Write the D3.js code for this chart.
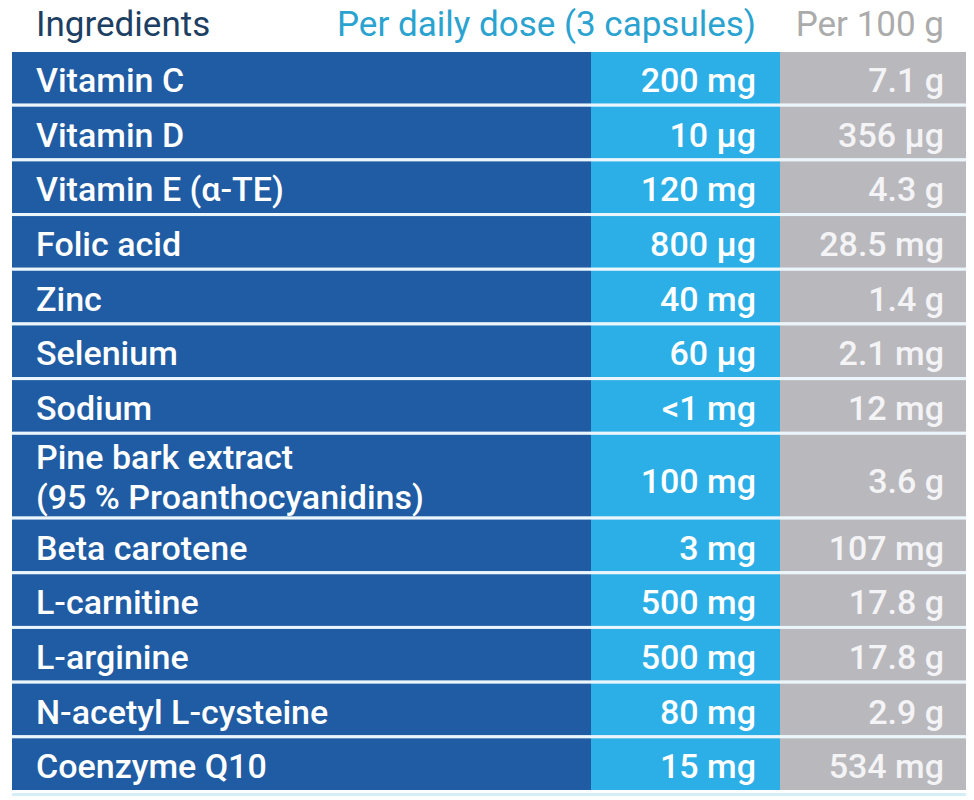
<!DOCTYPE html>
<html><head><meta charset="utf-8">
<script src="https://cdn.jsdelivr.net/npm/d3@7"></script>
<style>body{margin:0;background:#fff}svg{display:block}</style>
</head><body>
<script>
const headers = ["Ingredients", "Per daily dose (3 capsules)", "Per 100 g"];
const ingredients = [
  ["Vitamin C"], ["Vitamin D"], ["Vitamin E (α-TE)"], ["Folic acid"], ["Zinc"],
  ["Selenium"], ["Sodium"], ["Pine bark extract", "(95 % Proanthocyanidins)"],
  ["Beta carotene"], ["L-carnitine"], ["L-arginine"], ["N-acetyl L-cysteine"], ["Coenzyme Q10"]
];
const perDose = ["200 mg","10 µg","120 mg","800 µg","40 mg","60 µg","<1 mg","100 mg","3 mg","500 mg","500 mg","80 mg","15 mg"];
const per100g = ["7.1 g","356 µg","4.3 g","28.5 mg","1.4 g","2.1 mg","12 mg","3.6 g","107 mg","17.8 g","17.8 g","2.9 g","534 mg"];

const W = 974, H = 800;
const svg = d3.select("body").append("svg").attr("width", W).attr("height", H);
const font = "Roboto, 'DejaVu Sans', sans-serif";

// row units: two-line rows are taller
const units = ingredients.map(l => l.length > 1 ? 1.55 : 1);
const cum = [0]; units.forEach(u => cum.push(cum[cum.length-1] + u));
const y = d3.scaleLinear().domain([0, cum[cum.length-1]]).range([52, 793]);
const x = d3.scaleOrdinal().domain(["name","dose","g100"]).range([12, 591, 780]);
const colEnd = {name: 591, dose: 780, g100: 966};
const colFill = {name: "#1f5ca3", dose: "#2cafe7", g100: "#b9b9bd"};
const sep = 3;

const rows = ingredients.map((lines, i) => ({
  lines, dose: perDose[i], g100: per100g[i], y0: y(cum[i]), y1: y(cum[i+1])
}));

// bottom faint strip
svg.append("rect").attr("x", 12).attr("width", 954).attr("y", 793).attr("height", 3).attr("fill", "#d6eef8");

const g = svg.selectAll("g.row").data(rows).join("g").attr("class", "row");
["name","dose","g100"].forEach(c => {
  g.append("rect").attr("x", x(c)).attr("width", colEnd[c] - x(c))
    .attr("y", d => d.y0).attr("height", d => d.y1 - d.y0 - sep).attr("fill", colFill[c]);
});
// separator lines
g.filter((d, i) => i < rows.length - 1).append("rect").attr("x", 12).attr("width", 954)
  .attr("y", d => d.y1 - sep).attr("height", sep).attr("fill", "#eaf5fc");

const fs = 34;
g.each(function(d) {
  const sel = d3.select(this);
  const n = d.lines.length;
  const h = d.y1 - d.y0 - sep;
  const mid = d.y0 + h / 2;
  d.lines.forEach((t, k) => {
    sel.append("text").attr("x", 36)
      .attr("y", n === 1 ? d.y0 + 40 : d.y0 + 34 + k * 40)
      .attr("font-family", font).attr("font-size", fs).attr("font-weight", 500)
      .attr("fill", "#fff").text(t);
  });
  sel.append("text").attr("x", 756).attr("y", n === 1 ? d.y0 + 40 : mid + 17)
    .attr("text-anchor", "end").attr("font-family", font).attr("font-size", fs).attr("font-weight", 500)
    .attr("fill", "#fff").text(d.dose);
  sel.append("text").attr("x", 944).attr("y", n === 1 ? d.y0 + 40 : mid + 17)
    .attr("text-anchor", "end").attr("font-family", font).attr("font-size", fs).attr("font-weight", 500)
    .attr("fill", "#f4f4f6").text(d.g100);
});

// headers
const hdr = [
  {t: headers[0], x: 36, anchor: "start", c: "#1d3f63"},
  {t: headers[1], x: 756, anchor: "end", c: "#2aa3d0"},
  {t: headers[2], x: 944, anchor: "end", c: "#ababab"}
];
svg.selectAll("text.hdr").data(hdr).join("text").attr("class", "hdr")
  .attr("x", d => d.x).attr("y", 36).attr("text-anchor", d => d.anchor)
  .attr("font-family", font).attr("font-size", 35).attr("fill", d => d.c).text(d => d.t);
</script>
</body></html>
